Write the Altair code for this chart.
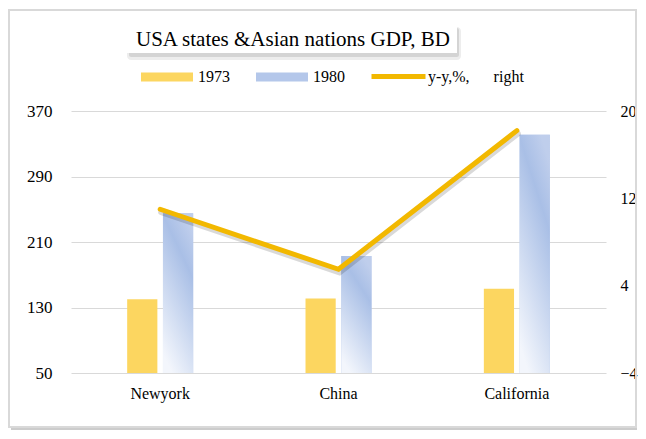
import altair as alt
import pandas as pd

categories = ["Newyork", "China", "California"]
years = ["1973", "1980"]
gdp_1973 = [140, 141, 153]
gdp_1980 = [245, 193, 341]
yy_pct = [11.0, 5.5, 18.2]
left_ticks = [50, 130, 210, 290, 370]
right_ticks = [-4, 4, 12, 20]
title_text = "USA states &Asian nations GDP, BD"
line_label = "y-y,%,\u00a0\u00a0\u00a0\u00a0\u00a0\u00a0right"

bars_df = pd.DataFrame({
    "category": categories * 2,
    "year": [years[0]] * 3 + [years[1]] * 3,
    "gdp": gdp_1973 + gdp_1980,
})
line_df = pd.DataFrame({"category": categories, "yy": yy_pct, "series": [line_label] * 3})
one = pd.DataFrame({"k": [0]})

FONT = "Liberation Serif"
W, H = 535, 262
YELLOW = "#FCD660"
LINE = "#F2B800"

x_enc = alt.X(
    "category:N", sort=categories,
    scale=alt.Scale(paddingInner=0.63, paddingOuter=0.315),
    axis=alt.Axis(title=None, labelAngle=0, ticks=False, domain=False, labelPadding=12,
                  labelFontSize=16, labelFont=FONT, labelColor="black"),
)
xoff = alt.XOffset("year:N", scale=alt.Scale(domain=years, paddingInner=0.156, paddingOuter=0))
y_left = alt.Y(
    "gdp:Q", scale=alt.Scale(domain=[50, 370], zero=False, nice=False),
    axis=alt.Axis(values=left_ticks, title=None, ticks=False, domain=False, grid=True,
                  gridColor="#D9D9D9", gridWidth=1.2, labelPadding=19, labelFontSize=17,
                  labelFont=FONT, labelColor="black"),
)
y_right = alt.Y(
    "yy:Q", scale=alt.Scale(domain=[-4, 20], zero=False, nice=False),
    axis=alt.Axis(orient="right", values=right_ticks, title=None, ticks=False, domain=False,
                  grid=False, labelPadding=14, labelFontSize=16, labelFont=FONT, labelColor="black"),
)

grad = alt.Gradient(
    gradient="linear",
    stops=[alt.GradientStop(color="#BFCEEC", offset=0),
           alt.GradientStop(color="#A9BFE6", offset=0.25),
           alt.GradientStop(color="#F3F6FC", offset=1)],
    x1=0.7, y1=0, x2=0.3, y2=1,
)

bar_flat = alt.Chart(bars_df).mark_bar().encode(
    x=x_enc, xOffset=xoff, y=y_left, y2=alt.datum(50),
    fill=alt.Fill("year:N", scale=alt.Scale(domain=years, range=[YELLOW, "#B4C7EA"]),
                  legend=alt.Legend(title=None, orient="none", legendX=70, legendY=-60,
                                    direction="horizontal", symbolType="M-1,-0.173H1V0.173H-1Z",
                                    symbolSize=2704, symbolStrokeWidth=0, labelFont=FONT,
                                    labelFontSize=16, labelColor="black", labelOffset=5,
                                    columnPadding=26)),
)
bar_grad = alt.Chart(bars_df).transform_filter("datum.year == '1980'").mark_bar(fill=grad).encode(
    x=x_enc, xOffset=xoff, y=y_left, y2=alt.datum(50),
)
bars = alt.layer(bar_flat, bar_grad)

line_shadow = alt.Chart(line_df).mark_line(
    color="#000000", opacity=0.15, strokeWidth=6, yOffset=3, xOffset=1, strokeCap="round"
).encode(x=x_enc, y=y_right)
line = alt.Chart(line_df).mark_line(strokeWidth=5, strokeCap="round").encode(
    x=x_enc, y=y_right,
    stroke=alt.Stroke("series:N", scale=alt.Scale(range=[LINE]),
                      legend=alt.Legend(title=None, orient="none", legendX=298, legendY=-64,
                                        symbolType="stroke", symbolSize=2916, symbolStrokeWidth=5,
                                        labelFont=FONT, labelFontSize=16, labelColor="black",
                                        labelOffset=0)),
)
lines = alt.layer(line_shadow, line)

base = alt.Chart(one)
frame_shadow = base.mark_rect(fill="#000000", opacity=0.2).encode(
    x=alt.value(-60), x2=alt.value(566), y=alt.value(316), y2=alt.value(319))
frame = base.mark_rect(fill="white", fillOpacity=0, stroke="#D9D9D9", strokeWidth=2).encode(
    x=alt.value(-62), x2=alt.value(565), y=alt.value(-101), y2=alt.value(316))
tshadow1 = base.mark_rect(fill="#000000", opacity=0.07, cornerRadius=4).encode(
    x=alt.value(56), x2=alt.value(390), y=alt.value(-84), y2=alt.value(-51))
tshadow2 = base.mark_rect(fill="#000000", opacity=0.1, cornerRadius=2).encode(
    x=alt.value(58), x2=alt.value(388), y=alt.value(-83), y2=alt.value(-54))
tbox = base.mark_rect(fill="white").encode(
    x=alt.value(56), x2=alt.value(386), y=alt.value(-86), y2=alt.value(-58))
ttext = base.mark_text(font=FONT, fontSize=21, align="left", baseline="alphabetic", color="black").encode(
    x=alt.value(65), y=alt.value(-65), text=alt.value(title_text))
deco = alt.layer(frame_shadow, frame, tshadow1, tshadow2, tbox, ttext)

chart = alt.layer(deco, bars, lines).resolve_scale(y="independent").properties(
    width=W, height=H,
    autosize=alt.AutoSizeParams(type="none"),
    padding={"left": 63, "top": 103, "right": 32, "bottom": 58},
    background="white",
).configure_view(stroke=None)

chart.save("out.html", embed_options={"renderer": "svg", "actions": False})
